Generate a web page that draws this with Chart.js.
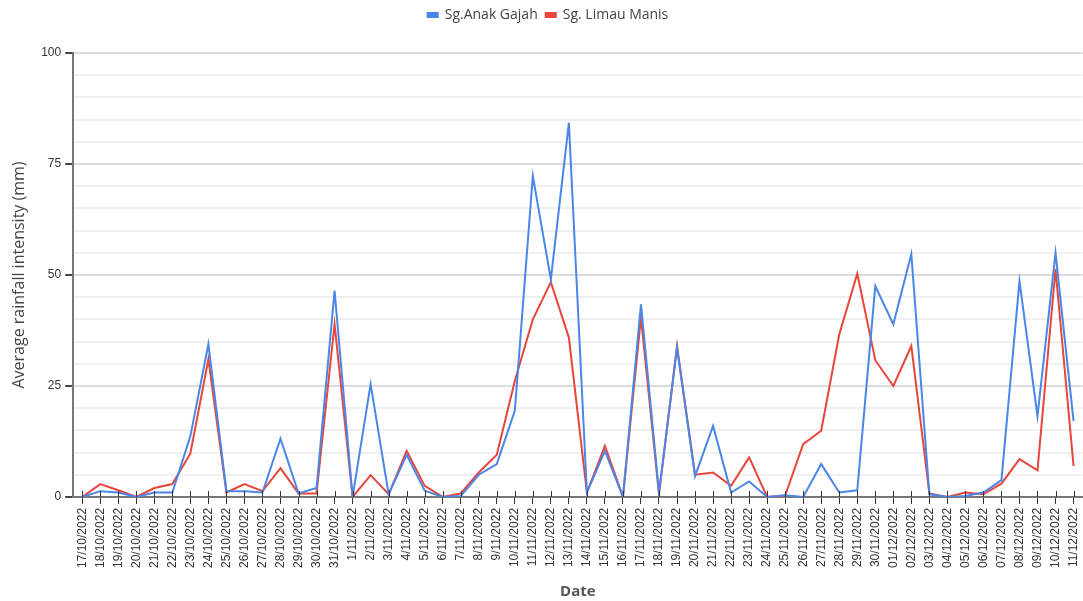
<!DOCTYPE html>
<html>
<head>
<meta charset="utf-8">
<script src="https://cdn.jsdelivr.net/npm/chart.js@4.4.1/dist/chart.umd.min.js"></script>
<style>
    html, body { margin: 0; padding: 0; background: #fff; overflow: hidden; }
    #wrap { position: relative; width: 1092px; height: 601px; }
</style>
</head>
<body>
<div id="wrap"><canvas id="rain"></canvas></div>
<script>
const dates = [
    "17/10/2022", "18/10/2022", "19/10/2022", "20/10/2022", "21/10/2022", "22/10/2022", "23/10/2022",
    "24/10/2022", "25/10/2022", "26/10/2022", "27/10/2022", "28/10/2022", "29/10/2022", "30/10/2022",
    "31/10/2022", "1/11/2022", "2/11/2022", "3/11/2022", "4/11/2022", "5/11/2022", "6/11/2022",
    "7/11/2022", "8/11/2022", "9/11/2022", "10/11/2022", "11/11/2022", "12/11/2022", "13/11/2022",
    "14/11/2022", "15/11/2022", "16/11/2022", "17/11/2022", "18/11/2022", "19/11/2022", "20/11/2022",
    "21/11/2022", "22/11/2022", "23/11/2022", "24/11/2022", "25/11/2022", "26/11/2022", "27/11/2022",
    "28/11/2022", "29/11/2022", "30/11/2022", "01/12/2022", "02/12/2022", "03/12/2022", "04/12/2022",
    "05/12/2022", "06/12/2022", "07/12/2022", "08/12/2022", "09/12/2022", "10/12/2022", "11/12/2022"
];

// Sg.Anak Gajah (mm)
const anakGajah = [
    0, 1.3, 1, 0, 1, 1, 13.7, 34.4, 1.3, 1.3, 1, 13.1, 0.8, 2,
    46.4, 0, 25.4, 0.6, 9.5, 1.4, 0, 0.2, 5, 7.4, 19.4, 72.3, 49, 84.3,
    1, 10.4, 0, 43.4, 1, 33.6, 4.7, 16, 1, 3.5, 0, 0.4, 0, 7.4,
    1, 1.5, 47.5, 38.9, 54.7, 0.6, 0, 0.2, 1, 3.8, 48.6, 18.2, 55, 17.1
];

// Sg. Limau Manis (mm)
const limauManis = [
    0, 2.9, 1.5, 0, 2, 2.9, 9.8, 31, 1, 2.9, 1.3, 6.5, 0.8, 0.8,
    38.9, 0, 4.9, 0.6, 10.4, 2.5, 0, 0.8, 5.5, 9.5, 26.1, 40, 48.4, 35.9,
    1, 11.5, 0, 40.4, 0.6, 34, 5, 5.5, 2.5, 8.9, 0, 0.3, 11.9, 14.9,
    36.6, 50.3, 30.8, 25, 34, 0.8, 0, 1, 0.6, 3, 8.5, 6, 51.3, 7
];

const yMin = 0;
const yMax = 100;
const yStep = 5;
const yLabelEvery = 25;

const BLUE = "#4a86e8";
const RED = "#e8453c";

// extra room under the legend
const legendGap = {
    id: "legendGap",
    beforeInit(chart) {
        const fit = chart.legend.fit;
        chart.legend.fit = function () {
            fit.bind(chart.legend)();
            this.height += 21;
        };
    }
};

// x tick marks poke a little above the axis too
const xTickUp = {
    id: "xTickUp",
    afterDraw(chart) {
        const x = chart.scales.x;
        const c = chart.ctx;
        const y0 = chart.chartArea.bottom;
        c.save();
        c.strokeStyle = "#333";
        c.lineWidth = 1;
        for (let i = 0; i < dates.length; i++) {
            const px = Math.round(x.getPixelForValue(i)) + 0.5;
            c.beginPath();
            c.moveTo(px, y0 - 6);
            c.lineTo(px, y0);
            c.stroke();
        }
        c.restore();
    }
};

const ctx = document.getElementById("rain").getContext("2d");

new Chart(ctx, {
    type: "line",
    data: {
        labels: dates,
        datasets: [
            { label: "Sg.Anak Gajah", data: anakGajah, borderColor: BLUE, backgroundColor: BLUE, borderWidth: 2, pointRadius: 0, tension: 0 },
            { label: "Sg. Limau Manis", data: limauManis, borderColor: RED, backgroundColor: RED, borderWidth: 2, pointRadius: 0, tension: 0 }
        ]
    },
    plugins: [legendGap, xTickUp],
    options: {
        responsive: true,
        maintainAspectRatio: false,
        animation: false,
        layout: { padding: { left: 10, right: 6, top: 0, bottom: 0 } },
        plugins: {
            legend: {
                display: true,
                position: "top",
                labels: {
                    boxWidth: 10,
                    boxHeight: 4,
                    color: "#444",
                    padding: 8,
                    font: { family: "'Open Sans', sans-serif", size: 14 }
                }
            },
            tooltip: { enabled: false }
        },
        scales: {
            x: {
                offset: true,
                title: {
                    display: true,
                    text: "Date",
                    color: "#555",
                    font: { family: "'Open Sans', sans-serif", size: 15, weight: "bold" },
                    padding: { top: 11, bottom: 0 }
                },
                grid: {
                    drawOnChartArea: false,
                    drawTicks: true,
                    tickLength: 7,
                    tickColor: "#333",
                    offset: false
                },
                border: { color: "#777", width: 2 },
                ticks: {
                    autoSkip: false,
                    maxRotation: 90,
                    minRotation: 90,
                    color: "#333",
                    padding: 4,
                    font: { family: "'Liberation Sans', Arial, sans-serif", size: 12 }
                }
            },
            y: {
                min: yMin,
                max: yMax,
                title: {
                    display: true,
                    text: "Average rainfall intensity (mm)",
                    color: "#444",
                    font: { family: "'Open Sans', sans-serif", size: 16 },
                    padding: { top: 0, bottom: 8 }
                },
                grid: {
                    color: function (c) {
                        return c.tick && c.tick.value % yLabelEvery === 0 ? "#dcdcdc" : "#f0f0f0";
                    },
                    lineWidth: 2,
                    tickLength: 8,
                    tickColor: function (c) {
                        return c.tick && c.tick.value % yLabelEvery === 0 ? "#444" : "rgba(0,0,0,0)";
                    }
                },
                border: { color: "#777", width: 2 },
                ticks: {
                    stepSize: yStep,
                    color: "#333",
                    padding: 4,
                    font: { family: "'Liberation Sans', Arial, sans-serif", size: 12 },
                    callback: function (v) {
                        return v % yLabelEvery === 0 ? String(v) : "";
                    }
                }
            }
        }
    }
});
</script>
</body>
</html>
